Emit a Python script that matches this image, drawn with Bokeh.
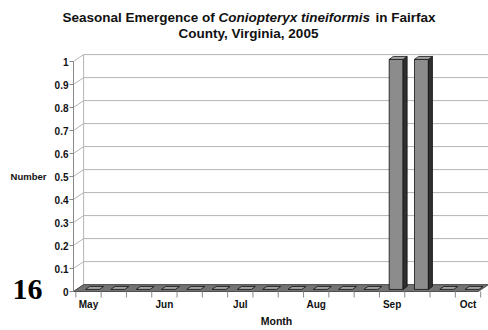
from bokeh.plotting import figure
from bokeh.models import Range1d
from bokeh.core.properties import value
from bokeh.embed import file_html
from bokeh.resources import INLINE

# Weekly sample counts, May through October
months = ["May", "", "", "Jun", "", "", "Jul", "", "", "Aug", "", "", "Sep", "", "", "Oct"]
counts = [0, 0, 0, 0, 0, 0, 0, 0, 0, 0, 0, 0, 1, 1, 0, 0]
y_ticks = [0, 0.1, 0.2, 0.3, 0.4, 0.5, 0.6, 0.7, 0.8, 0.9, 1]
y_tick_labels = ["0", "0.1", "0.2", "0.3", "0.4", "0.5", "0.6", "0.7", "0.8", "0.9", "1"]

W, H = 488, 330
# one week = 25.3 px; first week centred at x=88; count 0 at y=291, 1 at y=61
PX_X0, PX_PER_X = 88.0, 25.3
PX_Y0, PX_PER_Y = 291.0, 230.0
X0, X1 = -PX_X0 / PX_PER_X, (W - PX_X0) / PX_PER_X
Y0, Y1 = (PX_Y0 - H) / PX_PER_Y, PX_Y0 / PX_PER_Y

FONT = value("Liberation Sans")
INK = "#111111"

p = figure(width=W, height=H, x_range=Range1d(X0, X1), y_range=Range1d(Y0, Y1),
           output_backend="svg", toolbar_location=None,
           x_axis_type=None, y_axis_type=None,
           min_border=0, min_border_left=0, min_border_right=0,
           min_border_top=0, min_border_bottom=0)
p.outline_line_color = None
p.grid.visible = False
p.background_fill_color = "white"
p.border_fill_color = "white"


def fx(px):
    """canvas x pixel -> data x"""
    return (px - PX_X0) / PX_PER_X


def fy(py):
    """canvas y pixel -> data y"""
    return (PX_Y0 - py) / PX_PER_Y


# 3D box: front plane and back wall offset
DX, DY = 0.4, 0.03
FX0, FX1 = fx(73), len(counts) - 0.59
BX0, BX1 = FX0 + DX, FX1 + DX
ymax = y_ticks[-1]

grid_col = "#b4b4b4"
axis_col = "#8a8a8a"

# back-wall gridlines and side-wall diagonals
p.segment(x0=[BX0] * (len(y_ticks) - 1), y0=[t + DY for t in y_ticks[1:]],
          x1=[BX1] * (len(y_ticks) - 1), y1=[t + DY for t in y_ticks[1:]],
          line_color=grid_col, line_width=1)
p.segment(x0=[FX0] * len(y_ticks), y0=y_ticks,
          x1=[BX0] * len(y_ticks), y1=[t + DY for t in y_ticks],
          line_color=grid_col, line_width=1)
# wall edges
p.segment(x0=[BX0, BX1], y0=[DY, DY], x1=[BX0, BX1], y1=[ymax + DY, ymax + DY],
          line_color=grid_col, line_width=1)

# floor
p.patch([FX0, FX1, BX1, BX0], [0, 0, DY, DY], fill_color="#727272",
        line_color="#333333", line_width=0.8)

# bars
BW, BC = 0.55, 0.16
BDX, BDY, BY = 0.16, 0.013, 0.009
fl, fr, fb, ft = [], [], [], []
side_xs, side_ys, top_xs, top_ys = [], [], [], []
for i, v in enumerate(counts):
    xl = i + BC - BW / 2
    xr = i + BC + BW / 2
    t = v + BY
    if v > 0:
        fl.append(xl); fr.append(xr); fb.append(BY); ft.append(t)
        side_xs.append([xr, xr + BDX, xr + BDX, xr])
        side_ys.append([BY, BY + BDY, t + BDY, t])
    top_xs.append([xl, xr, xr + BDX, xl + BDX])
    top_ys.append([t, t, t + BDY, t + BDY])

p.quad(left=fl, right=fr, bottom=fb, top=ft, fill_color="#8c8c8c",
       line_color=INK, line_width=0.8)
p.patches(side_xs, side_ys, fill_color="#2f2f2f", line_color=INK, line_width=0.8)
p.patches(top_xs, top_ys, fill_color="#a2a2a2", line_color=INK, line_width=0.8)

# value axis: line, ticks and labels
p.segment(x0=[FX0], y0=[0], x1=[FX0], y1=[ymax], line_color=axis_col, line_width=1)
p.segment(x0=[fx(69)] * len(y_ticks), y0=y_ticks, x1=[FX0] * len(y_ticks), y1=y_ticks,
          line_color=axis_col, line_width=1)
p.text(x=[fx(68)] * len(y_ticks), y=y_ticks, text=y_tick_labels,
       text_align="right", text_baseline="middle", text_font=FONT,
       text_font_style="bold", text_font_size="10px", text_color=INK)

# week axis: ticks between weeks, month names at month starts
week_edges = [i - 0.5 for i in range(len(counts) + 1)]
p.segment(x0=week_edges, y0=[0] * len(week_edges), x1=week_edges,
          y1=[fy(297)] * len(week_edges), line_color=axis_col, line_width=1)
label_idx = [i for i, m in enumerate(months) if m]
p.text(x=label_idx, y=[fy(304)] * len(label_idx), text=[months[i] for i in label_idx],
       text_align="center", text_baseline="middle", text_font=FONT,
       text_font_style="bold", text_font_size="10px", text_color=INK)

# axis titles
p.text(x=[fx(276)], y=[fy(320)], text=["Month"], text_align="center",
       text_baseline="middle", text_font=FONT, text_font_style="bold",
       text_font_size="10.5px", text_color=INK)
p.text(x=[fx(28)], y=[fy(176)], text=["Number"], text_align="center",
       text_baseline="middle", text_font=FONT, text_font_style="bold",
       text_font_size="9.5px", text_color=INK)

# figure number
p.text(x=[fx(12)], y=[fy(289)], text=["16"], text_align="left",
       text_baseline="alphabetic", text_font=value("Liberation Serif"),
       text_font_style="bold", text_font_size="30px", text_color="#000000")

# title, with the species name in italics
TS = "13.5px"
p.text(x=[fx(62), fx(375)], y=[fy(17), fy(17)], text=["Seasonal Emergence of", "in Fairfax"],
       text_align="left", text_baseline="alphabetic", text_font=FONT,
       text_font_style="bold", text_font_size=TS, text_color=INK)
p.text(x=[fx(218)], y=[fy(17)], text=["Coniopteryx tineiformis"],
       text_align="left", text_baseline="alphabetic", text_font=FONT,
       text_font_style="bold italic", text_font_size=TS, text_color=INK)
p.text(x=[fx(248)], y=[fy(33)], text=["County, Virginia, 2005"], text_align="center",
       text_baseline="alphabetic", text_font=FONT, text_font_style="bold",
       text_font_size=TS, text_color=INK)

open("out.html", "w").write(file_html(p, INLINE))
